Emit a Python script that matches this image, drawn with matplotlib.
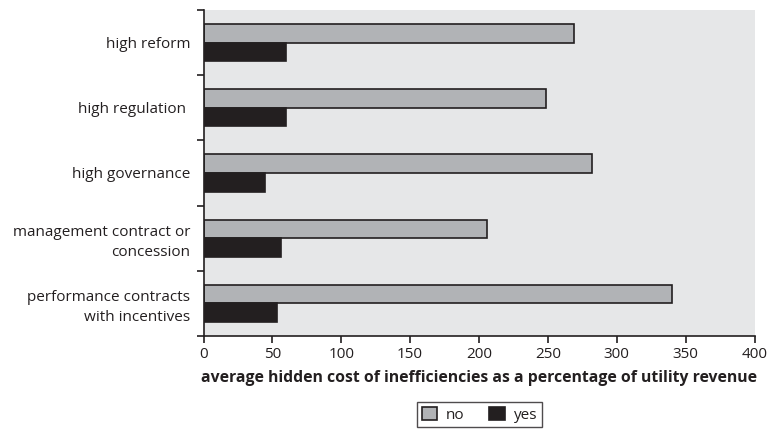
import numpy as np
import matplotlib.pyplot as plt
from matplotlib.ticker import FixedLocator

categories = ["high reform", "high regulation ", "high governance",
              "management contract or\nconcession",
              "performance contracts\nwith incentives"]
no_vals = [269, 249, 282, 206, 340]
yes_vals = [60, 60, 45, 56, 53]

plt.rcParams['font.family'] = ['Open Sans', 'DejaVu Sans']
ink = '#231f20'

fig = plt.figure(figsize=(7.8, 4.29), dpi=100)
ax = fig.add_axes([203.5 / 780, 1 - 336 / 429, 551 / 780, 326 / 429])
ax.set_facecolor('#e6e7e8')

y = np.arange(len(categories))
h = 0.285
ax.barh(y - h / 2, no_vals, height=h, color='#b1b3b6', edgecolor=ink, linewidth=1.2, label='no')
ax.barh(y + h / 2, yes_vals, height=h, color=ink, edgecolor=ink, linewidth=1.2, label='yes')

ax.set_xlim(0, 400)
ax.set_ylim(len(categories) - 0.5, -0.5)
ax.set_xticks(range(0, 401, 50))
ax.yaxis.set_major_locator(FixedLocator(np.arange(-0.5, len(categories), 1)))
ax.yaxis.set_major_formatter(plt.NullFormatter())
ax.yaxis.set_minor_locator(FixedLocator(y))
labels = ax.set_yticklabels(categories, minor=True, fontsize=11, color=ink)
for t in labels:
    t.set_linespacing(1.45)
ax.tick_params(axis='y', which='minor', length=0, pad=9.5)
ax.tick_params(axis='y', which='major', length=5, width=1.2, color=ink)
ax.tick_params(axis='x', length=5, width=1.2, color=ink, labelsize=11, labelcolor=ink, pad=3)

for s in ['top', 'right']:
    ax.spines[s].set_visible(False)
for s in ['left', 'bottom']:
    ax.spines[s].set_color(ink)
    ax.spines[s].set_linewidth(1.2)

ax.set_xlabel('average hidden cost of inefficiencies as a percentage of utility revenue',
              fontsize=11.3, fontweight='bold', color=ink, labelpad=6)

leg = fig.legend(loc='upper center', bbox_to_anchor=(479.5 / 780, 1 - 402 / 429), ncol=2,
                 frameon=True, fancybox=False, edgecolor=ink, fontsize=11,
                 handlelength=1.0, handleheight=1.0, columnspacing=1.6, handletextpad=0.6,
                 borderpad=0.3, borderaxespad=0)
for t in leg.get_texts():
    t.set_color(ink)
leg.get_frame().set_linewidth(1.0)

fig.savefig('out.png', dpi=100)
